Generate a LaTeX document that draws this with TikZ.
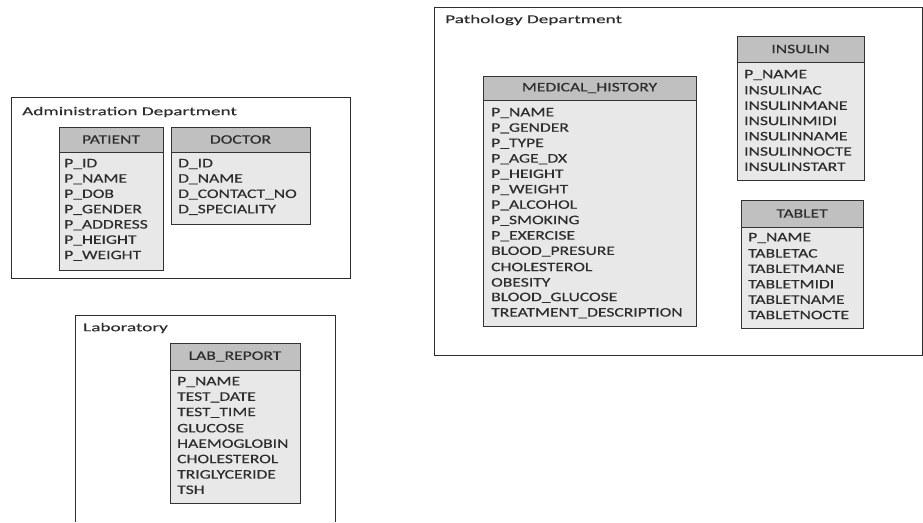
\documentclass[tikz,border=0pt]{standalone}
\usepackage{fontspec}
\setmainfont{Carlito}[FakeStretch=1.35,FakeBold=0.3]
\newfontfamily\titlefont{Carlito}[FakeStretch=1.6,FakeBold=0.3]
\usepackage{xcolor}

\definecolor{headgray}{RGB}{192,192,192}
\definecolor{bodygray}{RGB}{232,232,232}
\definecolor{inkgray}{RGB}{45,45,45}

\tikzset{
  outerbox/.style={draw=inkgray,line width=0.9pt},
  headbox/.style={draw=black!80,line width=1pt,fill=headgray},
  bodybox/.style={draw=black!80,line width=1pt,fill=bodygray},
  boxtitle/.style={anchor=west,inner sep=0pt,text=inkgray,font=\titlefont\fontsize{12}{14}\selectfont},
  headtext/.style={inner sep=0pt,text=inkgray,font=\fontsize{13}{15}\selectfont},
  field/.style={anchor=west,inner sep=0pt,text=inkgray,font=\fontsize{13}{15}\selectfont}
}

\begin{document}
\begin{tikzpicture}[x=1pt,y=-1pt]
\useasboundingbox (0,0) rectangle (923,522);

% administration department
\draw[outerbox] (11,97) rectangle (350,278);
\node[boxtitle] (admin) at (22,112) {Administration Department};
\draw[headbox] (59,127) rectangle (163,152);
\node[headtext] (patient) at (111,139.5) {PATIENT};
\draw[bodybox] (59,152) rectangle (163,270);
\foreach \i/\name in {0/P\_ID,1/P\_NAME,2/P\_DOB,3/P\_GENDER,4/P\_ADDRESS,5/P\_HEIGHT,6/P\_WEIGHT}
  \node[field] (patient\i) at (64,164+15.3*\i) {\name};
\draw[headbox] (171,127) rectangle (310,152);
\node[headtext] (doctor) at (240.5,139.5) {DOCTOR};
\draw[bodybox] (171,152) rectangle (310,224);
\foreach \i/\name in {0/D\_ID,1/D\_NAME,2/D\_CONTACT\_NO,3/D\_SPECIALITY}
  \node[field] (doctor\i) at (178,164+15.3*\i) {\name};

% laboratory
\draw[outerbox] (75,522) -- (75,315) -- (335,315) -- (335,522);
\node[boxtitle] (lab) at (83,328) {Laboratory};
\draw[headbox] (170,343) rectangle (300,370);
\node[headtext] (labreport) at (235,356.5) {LAB\_REPORT};
\draw[bodybox] (170,370) rectangle (300,503);
\foreach \i/\name in {0/P\_NAME,1/TEST\_DATE,2/TEST\_TIME,3/GLUCOSE,4/HAEMOGLOBIN,5/CHOLESTEROL,6/TRIGLYCERIDE,7/TSH}
  \node[field] (labreport\i) at (177,382+15.4*\i) {\name};

% pathology department
\draw[outerbox] (434,7) rectangle (922,355);
\node[boxtitle] (patho) at (445,20) {Pathology Department};
\draw[headbox] (483,76) rectangle (696,100);
\node[headtext] (history) at (589.5,88) {MEDICAL\_HISTORY};
\draw[bodybox] (483,100) rectangle (696,326);
\foreach \i/\name in {0/P\_NAME,1/P\_GENDER,2/P\_TYPE,3/P\_AGE\_DX,4/P\_HEIGHT,5/P\_WEIGHT,6/P\_ALCOHOL,7/P\_SMOKING,8/P\_EXERCISE,9/BLOOD\_PRESURE,10/CHOLESTEROL,11/OBESITY,12/BLOOD\_GLUCOSE,13/TREATMENT\_DESCRIPTION}
  \node[field] (history\i) at (491,113+15.4*\i) {\name};
\draw[headbox] (737,36) rectangle (864,62);
\node[headtext] (insulin) at (800.5,49) {INSULIN};
\draw[bodybox] (737,62) rectangle (864,180);
\foreach \i/\name in {0/P\_NAME,1/INSULINAC,2/INSULINMANE,3/INSULINMIDI,4/INSULINNAME,5/INSULINNOCTE,6/INSULINSTART}
  \node[field] (insulin\i) at (744,75+15.3*\i) {\name};
\draw[headbox] (741,200) rectangle (863,227);
\node[headtext] (tablet) at (802,213.5) {TABLET};
\draw[bodybox] (741,227) rectangle (863,328);
\foreach \i/\name in {0/P\_NAME,1/TABLETAC,2/TABLETMANE,3/TABLETMIDI,4/TABLETNAME,5/TABLETNOCTE}
  \node[field] (tablet\i) at (748,238+15.4*\i) {\name};
\end{tikzpicture}
\end{document}
